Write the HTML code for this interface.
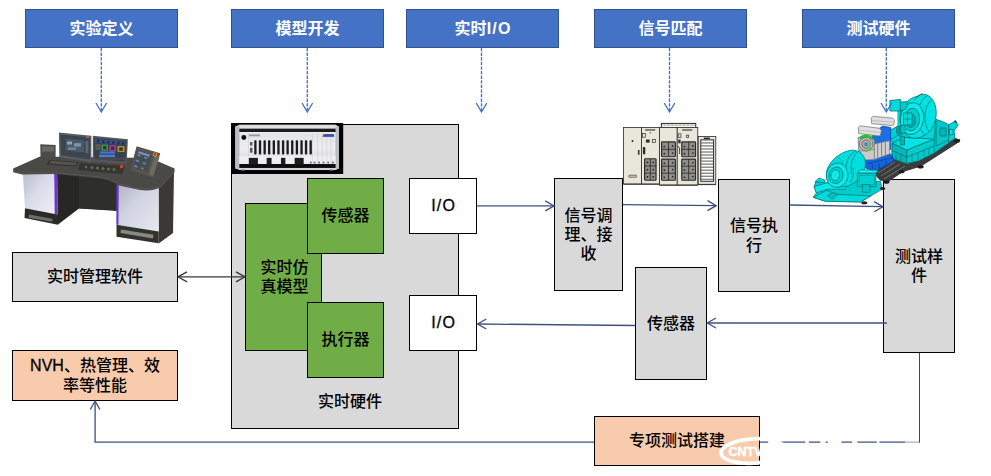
<!DOCTYPE html>
<html lang="zh-CN">
<head>
<meta charset="utf-8">
<title>实时仿真测试系统</title>
<style>
html,body{margin:0;padding:0;background:#fff;}
body{width:991px;height:476px;position:relative;overflow:hidden;
  font-family:"Liberation Sans","Noto Sans CJK SC",sans-serif;font-size:16px;color:#000;}
#stage{position:absolute;left:0;top:0;width:991px;height:476px;overflow:hidden;}
svg{position:absolute;left:0;top:0;}
.box{position:absolute;box-sizing:border-box;display:flex;align-items:center;justify-content:center;
  text-align:center;line-height:19.2px;font-size:16px;font-weight:500;}
.hd{background:#4472c4;border:1px solid #2f528f;color:#fff;font-weight:bold;top:9px;height:39px;width:153px;}
.gray{background:#d9d9d9;border:1px solid #000;}
.green{background:#70ad47;border:1px solid #000;}
.white{background:#fff;border:1px solid #000;}
.lat{letter-spacing:1.2px;margin-right:-1.2px;}
.box>div{white-space:nowrap;}
.nv{-webkit-text-stroke:0.3px #000;}
.io{letter-spacing:1.2px;margin-right:-1.2px;-webkit-text-stroke:0.3px #000;position:relative;top:0;}
.orange{background:#f8cbad;border:1px solid #000;}
</style>
</head>
<body>
<div id="stage">

<!-- header boxes -->
<div class="box hd" style="left:25px;"><div>实验定义</div></div>
<div class="box hd" style="left:231px;"><div>模型开发</div></div>
<div class="box hd" style="left:406px;"><div>实时<span class="lat">I/O</span></div></div>
<div class="box hd" style="left:594px;"><div>信号匹配</div></div>
<div class="box hd" style="left:802px;"><div>测试硬件</div></div>

<!-- container -->
<div class="box gray" style="left:231px;top:124px;width:228px;height:305px;"></div>
<div class="box" style="left:318px;top:392px;width:64px;height:19px;"><div>实时硬件</div></div>

<!-- left boxes -->
<div class="box gray" style="left:12px;top:252px;width:166px;height:50px;"><div>实时管理软件</div></div>
<div class="box orange" style="left:12px;top:350px;width:166px;height:51px;"><div><span class="nv">NVH</span>、热管理、效<br>率等性能</div></div>

<!-- green boxes -->
<div class="box green" style="left:245px;top:203px;width:77px;height:148px;padding-left:2px;"><div>实时仿<br>真模型</div></div>
<div class="box green" style="left:307px;top:178px;width:77px;height:76px;"><div>传感器</div></div>
<div class="box green" style="left:307px;top:302px;width:77px;height:76px;"><div>执行器</div></div>

<!-- I/O -->
<div class="box white" style="left:409px;top:178px;width:68px;height:56px;"><div><span class="io">I/O</span></div></div>
<div class="box white" style="left:409px;top:295px;width:68px;height:56px;"><div><span class="io">I/O</span></div></div>

<!-- right boxes -->
<div class="box gray" style="left:554px;top:178px;width:69px;height:113px;"><div>信号调<br>理、接<br>收</div></div>
<div class="box gray" style="left:718px;top:179px;width:72px;height:113px;"><div>信号执<br>行</div></div>
<div class="box gray" style="left:635px;top:267px;width:72px;height:113px;"><div>传感器</div></div>
<div class="box gray" style="left:883px;top:179px;width:72px;height:174px;"><div>测试样<br>件</div></div>
<div class="box orange" style="left:594px;top:416px;width:166px;height:50px;"><div>专项测试搭建</div></div>

<svg id="desk" width="991" height="476" viewBox="0 0 991 476">
  <defs>
    <filter id="bl" x="-5%" y="-5%" width="110%" height="110%"><feGaussianBlur stdDeviation="0.45"/></filter>
    <linearGradient id="silv" x1="0" y1="0" x2="1" y2="1">
      <stop offset="0" stop-color="#b9bccb"/><stop offset="0.45" stop-color="#d9dbe8"/><stop offset="1" stop-color="#eef0f6"/>
    </linearGradient>
    <linearGradient id="silv2" x1="0" y1="0" x2="1" y2="1">
      <stop offset="0" stop-color="#aeb1c0"/><stop offset="0.4" stop-color="#cfd2e0"/><stop offset="1" stop-color="#e6e8f0"/>
    </linearGradient>
  </defs>
  <g filter="url(#bl)">
    <!-- back panel / dark interior -->
    <polygon points="57,172 100,175 118,180 118,211 79,208.5 58,224.5" fill="#262623"/>
    <polygon points="79,174 100,175.5 117,180 117,210.5 79,208.3" fill="#2d2d29"/>
    <!-- right cabinet side -->
    <polygon points="158.5,187 174,171 173,233 158.7,243.5" fill="#3a3936"/>
    <!-- left cabinet front -->
    <polygon points="22.8,173 54.3,173 54.8,214 25,208.3" fill="url(#silv)"/>
    <polygon points="54.2,173 57.4,173 57.8,214.5 54.7,214" fill="#6a35c8"/>
    <polygon points="25,208.3 54.8,214 58,214.6 58,224.8 24.5,218" fill="#2b2b27"/>
    <rect x="29" y="214.5" width="24" height="3.2" fill="#8a8a86" transform="rotate(10 29 214.5)" opacity=".7"/>
    <!-- right cabinet front -->
    <polygon points="118.4,184 158.7,187 158.7,231.8 116.6,224.8" fill="url(#silv2)"/>
    <polygon points="116.4,184 118.8,184 118.4,225 116.4,224.6" fill="#6a35c8"/>
    <polygon points="116.5,224.7 158.7,231.6 158.7,243.3 116.5,236.8" fill="#33332f"/>
    <rect x="121" y="229.5" width="33" height="3.6" fill="#a5a5a0" transform="rotate(9.3 121 229.5)" opacity=".75"/>
    <!-- desk top -->
    <path d="M13.2,168.5 L40,156.5 L150,158 L174.6,168.6 L174.4,172.6 L161,187.5 Q151,191.6 140,190 L119,185.5 Q109,179.2 99,178.3 L54,174 L22,174.4 L13.2,172.2 Z" fill="#4a4844"/>
    <path d="M13.2,170.6 L22,173 L54,172.6 L99,177 Q109,178 119,184.2 L140,188.7 Q151,190.3 161,186.2 L174.4,171" fill="none" stroke="#5c5a55" stroke-width="0.8"/>
    <!-- small panel -->
    <polygon points="40.3,144.2 55.6,145 55.6,158 40.5,157" fill="#4c4c46"/>
    <rect x="42" y="146.5" width="12" height="5" fill="#77776f" opacity=".7"/>
    <!-- left monitor -->
    <polygon points="58.9,132.4 91.4,135.8 91.4,162 59.3,157.2" fill="#5b5f62"/>
    <polygon points="60.4,134.6 90,137.6 90,159.4 60.8,155.2" fill="#3b4450"/>
    <polygon points="65.5,138.5 84,140.4 84,152.5 65.8,150.4" fill="#4b5868"/>
    <rect x="67" y="141.5" width="5" height="3" fill="#9fb4c8" opacity=".8"/>
    <rect x="74" y="143.2" width="7" height="3.4" fill="#8aa2bd" opacity=".8"/>
    <rect x="68" y="147.6" width="8" height="2" fill="#7f9dc0" opacity=".8"/>
    <rect x="85.5" y="141" width="3" height="12" fill="#5c6c78" opacity=".9"/>
    <rect x="86" y="136.6" width="3" height="1.4" fill="#e05050"/>
    <!-- right monitor -->
    <polygon points="92.8,135.8 127.9,139.2 126.6,164 92.8,161.4" fill="#55585a"/>
    <polygon points="94.2,137.8 126.3,140.8 125.2,161.6 94.2,159.2" fill="#39404a"/>
    <polygon points="95,139 125,141.8 125,145.2 95,142.6" fill="#34509c"/>
    <g fill="#2a2f3a"><rect x="97" y="140" width="2.6" height="2.4"/><rect x="102" y="140.5" width="2.6" height="2.4"/><rect x="107" y="141" width="2.6" height="2.4"/><rect x="112" y="141.4" width="2.6" height="2.4"/><rect x="117" y="141.9" width="2.6" height="2.4"/><rect x="121.6" y="142.3" width="2.6" height="2.4"/></g>
    <rect x="95.5" y="144" width="5" height="6" fill="#5a5a52"/>
    <rect x="101.5" y="144.6" width="6.5" height="6" fill="#3a9a4c"/><rect x="103" y="146" width="3.5" height="3.4" fill="#30382f"/>
    <rect x="109.5" y="145.2" width="6.5" height="6" fill="#a83c98"/><rect x="111" y="146.6" width="3.5" height="3.4" fill="#3a2e38"/>
    <rect x="117.5" y="146" width="7" height="6" fill="#b09030"/><rect x="119.2" y="147.4" width="3.6" height="3.4" fill="#3a362c"/>
    <rect x="100" y="151.4" width="15" height="2.2" fill="#4474cc"/>
    <rect x="99" y="154.6" width="16" height="2.6" fill="#4a7cd0"/>
    <rect x="95" y="157.4" width="30" height="2.6" fill="#4a4c4e" opacity=".8"/>
    <!-- keyboard -->
    <polygon points="50,160 79,162.2 75.5,166.6 46.6,164.4" fill="#33332f"/>
    <polygon points="51,160.8 77,162.8 75,165.4 49,163.6" fill="#5c5c56" opacity=".8"/>
    <!-- control panel knobs -->
    <polygon points="80,163 125,166 122,174 78,170" fill="#34342f"/>
    <g fill="#66665f">
      <circle cx="92" cy="167.5" r="1.6"/><circle cx="97.5" cy="168" r="1.6"/><circle cx="103" cy="168.5" r="1.6"/>
      <circle cx="108.5" cy="169" r="1.6"/><circle cx="114" cy="169.5" r="1.6"/><circle cx="86" cy="167" r="1.4"/>
    </g>
    <circle cx="121.6" cy="166.6" r="1.9" fill="#e03a20"/>
    <!-- tablet -->
    <polygon points="136.6,146.2 160.2,153.2 153.2,177.4 130.2,170.2" fill="#55554e"/>
    <polygon points="137.6,150.6 152,155 147.6,172 132.6,167.6" fill="#4a4d4a"/>
    <polygon points="155,155 159.6,156.4 153.4,176 149,174.4" fill="#6b6b64"/>
    <g fill="#5b83c8">
      <rect x="137.5" y="154" width="3.4" height="1.8" transform="rotate(17 137.5 154)"/>
      <rect x="144.5" y="156.5" width="3.4" height="1.8" transform="rotate(17 144.5 156.5)"/>
      <rect x="136" y="159.5" width="3.4" height="1.8" transform="rotate(17 136 159.5)"/>
      <rect x="143" y="162" width="3.4" height="1.8" transform="rotate(17 143 162)"/>
      <rect x="134.5" y="165" width="3.4" height="1.8" transform="rotate(17 134.5 165)"/>
      <rect x="141.5" y="167.2" width="2.4" height="1.8" transform="rotate(17 141.5 167.2)"/>
    </g>
    <rect x="138.5" y="151.3" width="12" height="2" fill="#7d90c8" transform="rotate(17 138.5 151.3)"/>
    <circle cx="155" cy="154.6" r="2.1" fill="#d8b020"/>
    <circle cx="155" cy="154.4" r="1.3" fill="#e02818"/>
  </g>
</svg>
<svg id="rack" width="991" height="476" viewBox="0 0 991 476">
  <defs>
    <filter id="bl2" x="-5%" y="-5%" width="110%" height="110%"><feGaussianBlur stdDeviation="0.3"/></filter>
    <linearGradient id="rk" x1="0" y1="0" x2="0" y2="1">
      <stop offset="0" stop-color="#dcdde0"/><stop offset="0.5" stop-color="#ededf0"/><stop offset="1" stop-color="#d2d3d6"/>
    </linearGradient>
  </defs>
  <rect x="231" y="123" width="112.2" height="51" fill="#000"/>
  <g transform="translate(225,115) scale(0.13655)" filter="url(#bl2)">
    <polygon points="75,85 105,72 810,72 835,85 835,392 810,403 105,403 75,392" fill="#c9cacd"/>
    <rect x="105" y="72" width="705" height="331" fill="url(#rk)"/>
    <rect x="75" y="86" width="30" height="306" fill="#b9bcc2"/>
    <rect x="810" y="86" width="25" height="306" fill="#bcbec4"/>
    <rect x="105" y="100" width="705" height="26" fill="#1c1c1e"/>
    <rect x="105" y="358" width="705" height="30" fill="#111"/>
    <rect x="105" y="300" width="705" height="58" fill="#eeeef2"/>
    <rect x="105" y="126" width="705" height="8" fill="#f6f6f8"/>
    <!-- dividers -->
    <g stroke="#bfc0c6" stroke-width="3">
      <path d="M172 132V360M640 132V360M678 132V360M712 132V360M745 132V360M776 132V360"/>
    </g>
    <circle cx="138" cy="165" r="18" fill="#111"/>
    <rect x="176" y="142" width="80" height="14" fill="#9a9ba0"/>
    <rect x="183" y="198" width="18" height="26" fill="#55565a"/>
    <rect x="183" y="240" width="18" height="36" fill="#55565a"/>
    <!-- slots -->
    <g fill="#1a1a1c">
      <rect x="214" y="184" width="17" height="106" rx="6"/>
      <rect x="248" y="184" width="17" height="106" rx="6"/>
      <rect x="282" y="184" width="17" height="106" rx="6"/>
      <rect x="315" y="184" width="17" height="106" rx="6"/>
      <rect x="349" y="184" width="17" height="106" rx="6"/>
      <rect x="383" y="184" width="17" height="106" rx="6"/>
      <rect x="417" y="184" width="17" height="106" rx="6"/>
      <rect x="450" y="184" width="17" height="106" rx="6"/>
      <rect x="484" y="184" width="17" height="106" rx="6"/>
      <rect x="518" y="184" width="17" height="106" rx="6"/>
      <rect x="552" y="184" width="17" height="106" rx="6"/>
      <rect x="585" y="184" width="17" height="106" rx="6"/>
      <rect x="619" y="184" width="17" height="106" rx="6"/>
    </g>
    <!-- handles -->
    <g fill="#1b1b1d">
      <rect x="175" y="314" width="66" height="46"/>
      <rect x="305" y="314" width="36" height="46"/>
      <rect x="410" y="314" width="32" height="46"/>
      <rect x="510" y="314" width="66" height="46"/>
    </g>
    <g fill="#5a5b5f">
      <rect x="622" y="342" width="12" height="12"/><rect x="650" y="342" width="12" height="12"/>
      <rect x="683" y="342" width="12" height="12"/><rect x="716" y="342" width="12" height="12"/>
      <rect x="750" y="342" width="12" height="12"/><rect x="784" y="342" width="12" height="12"/>
    </g>
    <!-- logo -->
    <rect x="722" y="140" width="76" height="20" fill="#2a4fc0"/>
    <polygon points="712,160 724,140 736,140 724,160" fill="#d02838"/>
    <rect x="118" y="400" width="24" height="10" fill="#555"/>
    <rect x="768" y="400" width="24" height="10" fill="#555"/>
  </g>
</svg>
<svg id="cab" width="991" height="476" viewBox="0 0 991 476">
  <defs>
    <filter id="bl3" x="-5%" y="-5%" width="110%" height="110%"><feGaussianBlur stdDeviation="0.25"/></filter>
  </defs>
  <g transform="translate(615,115) scale(0.16821)" filter="url(#bl3)">
    <!-- top bar -->
    <rect x="276" y="50" width="204" height="26" fill="#f4f3ee" stroke="#2a2a28" stroke-width="6"/>
    <path d="M284 60H472" stroke="#55554f" stroke-width="5" stroke-dasharray="4 4"/>
    <!-- panels -->
    <g fill="#e9e6db" stroke="#33332f" stroke-width="5">
      <rect x="50" y="74" width="108" height="336"/>
      <rect x="158" y="74" width="107" height="336"/>
      <rect x="265" y="74" width="105" height="342"/>
      <rect x="370" y="74" width="122" height="342"/>
      <rect x="495" y="128" width="104" height="284"/>
    </g>
    <path d="M50 412H265M265 418H492M495 414H599" stroke="#2a2a28" stroke-width="5"/>
    <!-- louvers -->
    <rect x="510" y="148" width="76" height="246" fill="#fff" stroke="#2a2a28" stroke-width="6"/>
    <g stroke="#4a4a46" stroke-width="5.5">
      <path d="M510 166H586M510 184H586M510 202H586M510 220H586M510 238H586M510 256H586M510 274H586M510 292H586M510 310H586M510 328H586M510 346H586M510 364H586M510 382H586"/>
    </g>
    <rect x="528" y="134" width="36" height="9" fill="#2a2a28"/>
    <!-- grids -->
    <g fill="#8e8e8a" stroke="#2a2a28" stroke-width="7">
      <rect x="176" y="260" width="68" height="128" rx="4"/>
      <rect x="277" y="160" width="82" height="88" rx="4"/>
      <rect x="277" y="262" width="82" height="126" rx="4"/>
      <rect x="397" y="160" width="82" height="88" rx="4"/>
      <rect x="397" y="262" width="82" height="126" rx="4"/>
    </g>
    <g stroke="#2a2a28" stroke-width="5" fill="none">
      <path d="M210 260V388M176 303H244M176 346H244"/>
      <path d="M318 160V248M277 204H359M318 262V388M277 304H359M277 346H359"/>
      <path d="M438 160V248M397 204H479M438 262V388M397 304H479M397 346H479"/>
    </g>
    <g fill="#1e1e1e">
      <circle cx="193" cy="282" r="5"/><circle cx="227" cy="282" r="5"/><circle cx="193" cy="325" r="5"/><circle cx="227" cy="325" r="5"/><circle cx="193" cy="368" r="5"/><circle cx="227" cy="368" r="5"/>
      <circle cx="293" cy="188" r="5"/><circle cx="343" cy="184" r="5"/><circle cx="293" cy="230" r="5"/><circle cx="343" cy="226" r="5"/>
      <circle cx="293" cy="288" r="5"/><circle cx="343" cy="284" r="5"/><circle cx="293" cy="328" r="5"/><circle cx="343" cy="324" r="5"/><circle cx="293" cy="370" r="5"/><circle cx="343" cy="366" r="5"/>
      <circle cx="413" cy="188" r="5"/><circle cx="463" cy="184" r="5"/><circle cx="413" cy="230" r="5"/><circle cx="463" cy="226" r="5"/>
      <circle cx="413" cy="288" r="5"/><circle cx="463" cy="284" r="5"/><circle cx="413" cy="328" r="5"/><circle cx="463" cy="324" r="5"/><circle cx="413" cy="370" r="5"/><circle cx="463" cy="366" r="5"/>
    </g>
    <!-- small details -->
    <circle cx="104" cy="154" r="6" fill="#2a2a2a"/>
    <rect x="136" y="208" width="10" height="28" fill="#3a3a38"/>
    <rect x="82" y="358" width="46" height="12" rx="3" fill="#d8d5ca" stroke="#3a3a38" stroke-width="4"/>
    <rect x="182" y="84" width="56" height="10" fill="#8c8a80" stroke="#55534c" stroke-width="2"/>
    <rect x="402" y="84" width="56" height="10" fill="#8c8a80" stroke="#55534c" stroke-width="2"/>
    <rect x="164" y="110" width="16" height="22" fill="#e9e6db" stroke="#2c2c2a" stroke-width="4"/>
    <circle cx="210" cy="106" r="4" fill="#2a2a2a"/>
    <rect x="184" y="146" width="22" height="18" fill="#2c2c2a"/>
    <rect x="222" y="146" width="18" height="18" fill="#e9e6db" stroke="#2c2c2a" stroke-width="4"/>
    <rect x="166" y="190" width="14" height="44" rx="4" fill="#2c2c2a"/>
    <rect x="376" y="112" width="16" height="22" fill="#e9e6db" stroke="#2c2c2a" stroke-width="4"/>
    <rect x="424" y="120" width="14" height="14" fill="#e9e6db" stroke="#2c2c2a" stroke-width="4"/>
    <rect x="376" y="146" width="14" height="22" fill="#2c2c2a"/>
    <path d="M374 184L384 196V232" stroke="#2c2c2a" stroke-width="5" fill="none"/>
  </g>
</svg>
<svg id="mach" width="991" height="476" viewBox="0 0 991 476">
  <defs>
    <filter id="bl4" x="-5%" y="-5%" width="110%" height="110%"><feGaussianBlur stdDeviation="0.3"/></filter>
  </defs>
  <g filter="url(#bl4)" stroke-linejoin="round">
    <!-- base plate -->
    <path d="M876,171 L892,158 L907,163.5 L919,160.5 L934,153 L955,138 L960.5,139.5 L957,143.5 L921,166.5 L903,172 L888,182 L880,180.5 L876,176 Z" fill="#3b3b3b"/>
    <g stroke="#8a8a8a" stroke-width="0.7" fill="none"><path d="M878 173L895 162M881 176L900 164M884 179L905 166"/></g>
    <g fill="#1e1e1e">
      <ellipse cx="901.5" cy="171.5" rx="3.2" ry="1.8"/><ellipse cx="920.5" cy="166.8" rx="3.2" ry="1.8"/>
      <ellipse cx="957" cy="141" rx="3" ry="1.8"/><ellipse cx="886.5" cy="182" rx="3" ry="1.8"/>
    </g>
    <!-- right motor -->
    <g stroke="#007676" stroke-width="0.8">
      <path d="M889.9,100.5 L900.4,99.5 L900.4,102 L910.9,101.6 L917.2,96.3 L923.5,94.2 L931.9,99.5 L936.1,108.9 L936.1,119.4 L942.4,121.5 L948.7,124.7 L955,121.5 L958.2,124.7 L954,131 L955,138.3 L934,153 L919.3,160.4 L906.7,163.5 L892,158.3 L892,142.5 L884.7,139.4 L884.7,133.1 L892,131 L897.3,125.7 L897.3,111 L889.9,111 Z" fill="#00d6d6" stroke="none"/>
      <!-- base block -->
      <polygon points="892,143 906.7,150 934,139 936,120 955,138.3 934,153 919.3,160.4 906.7,163.5 892,158.3" fill="#00c6c6"/>
      <polygon points="892,143 906.7,150 906.7,163.5 892,158.3" fill="#00b8b8"/>
      <polygon points="906.7,150 934,139 934,153 919.3,160.4 906.7,163.5" fill="#00cccc"/>
      <path d="M892,150.5L906.7,157L934,146" fill="none"/>
      <path d="M896,152.5V159.5M901,154.5V161.5M912,155V162M918,152.5V160M924,150V157.5M929,148V155" fill="none" stroke-width="0.7"/>
      <polygon points="892,143 904,137.5 934,139 906.7,150" fill="#06e6e6"/>
      <!-- right section -->
      <polygon points="936.1,119.4 942.4,121.5 948.7,124.7 948.7,140 936.1,146" fill="#00c8c8"/>
      <polygon points="948.7,124.7 955,121.5 958.2,124.7 954,131 955,138.3 948.7,142" fill="#00d8d8"/>
      <rect x="940" y="128" width="6" height="8" fill="#00b4b4"/>
      <rect x="949.5" y="129.5" width="3.6" height="5.4" fill="#08e4e4"/>
      <path d="M954.6,120.6L956.6,123" stroke="#055" stroke-width="1.8"/>
      <!-- drum -->
      <path d="M900,117 C901,106 908,98 917.2,96.3 C920,94.5 922,94 923.5,94.2 C930.5,94.5 936,102 936.2,112 C936.5,123 931,133 923,136 C920,138 916,138.5 913,138 C905,137 899.5,128 900,117 Z" fill="#02e2e2"/>
      <path d="M927.5,95.5 C921,99 917.5,107 918.2,118 C918.8,126 921,131.5 925,135" fill="none"/>
      <path d="M932,99.5 C927,103.5 924.5,110 925,119 C925.4,125 927,129.5 929.5,132" fill="none"/>
      <ellipse cx="912" cy="118.6" rx="11.6" ry="16" fill="#0aeaea" transform="rotate(8 912 118.6)"/>
      <ellipse cx="911.6" cy="119.6" rx="8" ry="11.4" fill="#00cece" transform="rotate(8 911.6 119.6)"/>
      <ellipse cx="911" cy="121" rx="4.6" ry="6.6" fill="#00b0b0" transform="rotate(8 911 121)"/>
      <rect x="903.5" y="113" width="8.5" height="12" fill="#00d8d8"/>
      <path d="M903.5,119H912M907.5,113V125" fill="none" stroke-width="0.6"/>
      <!-- top-left box -->
      <polygon points="889.9,100.5 900.4,99.5 900.4,111 889.9,111" fill="#00dcdc"/>
      <polygon points="900.4,102 908,101.7 906,109 900.4,111" fill="#00cccc"/>
      <path d="M914.4,99.5L921.6,93.6L922.8,94.8" fill="none" stroke="#0a7070"/>
      <!-- shaft -->
      <polygon points="884.7,133.1 897,126.5 901,133.5 888,141" fill="#00d2d2"/>
      <ellipse cx="887" cy="137" rx="2.8" ry="3.6" fill="#10eaea"/>
      <ellipse cx="887" cy="137" rx="1.2" ry="1.6" fill="#009090"/>
      <ellipse cx="899.5" cy="130.5" rx="3" ry="4.6" fill="#009a9a"/>
      <ellipse cx="903" cy="129.5" rx="2.6" ry="4.2" fill="#00c0c0"/>
      <rect x="900" y="136" width="4.5" height="9" fill="#00b4b4"/>
      <path d="M893,141V147M896,139.5V146" fill="none" stroke-width="0.6"/>
    </g>
    <!-- gearbox (G tile) -->
    <g transform="translate(845,110) scale(0.13645)" stroke-width="5">
      <polygon points="150,362 330,318 352,345 352,380 250,432 205,448 150,425" fill="#1464dc" stroke="#0a3a96"/>
      <path d="M160 395L345 350M200 400V440M250 390V425M300 375V405" stroke="#0a3a96" stroke-width="5" fill="none"/>
      <polygon points="200,175 275,118 335,128 335,290 262,330 200,300" fill="#1a6ee6" stroke="#0a3a96"/>
      <polygon points="95,200 215,215 215,330 150,352 100,292" fill="#bdbdbd" stroke="#6a6a6a"/>
      <polygon points="215,250 326,226 326,322 215,362" fill="#d0d0d0" stroke="#7a7a7a"/>
      <path d="M240 250V350M268 242V340M296 236V330" stroke="#7a7a7a" stroke-width="7" fill="none"/>
      <polygon points="130,300 215,290 215,362 150,366 105,300" fill="#cacaca" stroke="#7a7a7a"/>
      <path d="M110 195 Q160 165 205 200 L205 215 Q160 185 112 212 Z" fill="#18d818" stroke="#0c8c0c" stroke-width="3"/>
      <circle cx="155" cy="250" r="50" fill="#bcbcbc" stroke="#5a5a5a"/>
      <path d="M190 275 Q180 300 150 302" stroke="#18d818" stroke-width="9" fill="none"/>
      <circle cx="155" cy="250" r="32" fill="#a8a8a8" stroke="#5a5a5a"/>
      <circle cx="155" cy="252" r="10" fill="#10c8c8" stroke="#077"/>
      <polygon points="192,58 205,46 350,60 363,76 358,108 345,114 195,100" fill="#dedede" stroke="#6c6c6c"/>
      <path d="M194 76L350 90" stroke="#a4a4a4" stroke-width="4" fill="none"/>
      <polygon points="97,128 110,116 255,134 266,150 260,186 248,190 100,172" fill="#e0e0e0" stroke="#6c6c6c"/>
      <path d="M99 148L255 164" stroke="#a4a4a4" stroke-width="4" fill="none"/>
    </g>
    <!-- left motor (M1 tile) -->
    <g transform="translate(800,145) scale(0.12606)" stroke="#007c7c" stroke-width="6">
      <polygon points="105,415 130,380 112,330 125,292 210,300 640,288 650,352 480,452 200,446" fill="#00cccc"/>
      <polygon points="112,330 210,300 360,320 360,352 215,352 130,380" fill="#0ae8e8"/>
      <polygon points="105,415 200,446 480,452 560,404 300,392 210,360" fill="#00dada"/>
      <polygon points="215,400 260,378 300,390 255,430" fill="#0bbcbc"/>
      <path d="M208,235 C210,150 300,60 400,42 C470,32 520,80 518,150 C516,230 450,300 380,325 C290,350 205,320 208,235 Z" fill="#00dede"/>
      <path d="M440,45 C380,80 350,160 370,250 M400,300 C420,260 430,220 420,180 M470,42 C420,80 395,150 410,230" fill="none"/>
      <path d="M300,95 C330,120 345,150 350,180" fill="none" stroke-width="4"/>
      <ellipse cx="295" cy="240" rx="86" ry="98" fill="#08e8e8" transform="rotate(10 295 240)"/>
      <ellipse cx="285" cy="240" rx="56" ry="66" fill="#00d2d2" transform="rotate(10 285 240)"/>
      <ellipse cx="280" cy="240" rx="34" ry="44" fill="#10eaea" transform="rotate(10 280 240)"/>
      <rect x="455" y="222" width="148" height="108" fill="#00d0d0"/>
      <path d="M470 240H590V315H470Z" fill="none" stroke-width="4"/>
      <polygon points="455,222 480,196 620,200 603,222" fill="#20f0f0"/>
      <rect x="495" y="315" width="60" height="60" fill="#00c8c8"/>
      <polygon points="120,290 150,262 200,280 190,300" fill="#00dada"/>
      <ellipse cx="655" cy="345" rx="22" ry="12" fill="#222" stroke="none"/>
      <ellipse cx="510" cy="458" rx="24" ry="12" fill="#222" stroke="none"/>
    </g>
  </g>
</svg>
<svg id="lines" width="991" height="476" viewBox="0 0 991 476">
  <!-- dashed arrows -->
  <g stroke="#4472c4" stroke-width="1.35" fill="none">
    <g stroke-dasharray="3.3 1.3">
      <path d="M101.3 48V111"/>
      <path d="M307.3 48V111"/>
      <path d="M481.5 48V111"/>
      <path d="M669.5 48V111"/>
      <path d="M886.3 48V111"/>
    </g>
    <path d="M96 103L101.3 112L106.6 103"/>
    <path d="M302 103L307.3 112L312.6 103"/>
    <path d="M476.2 103L481.5 112L486.8 103"/>
    <path d="M664.2 103L669.5 112L674.8 103"/>
    <path d="M881 103L886.3 112L891.6 103"/>
  </g>
  <!-- double arrow -->
  <g stroke="#3a3a3a" stroke-width="1.35" fill="none">
    <path d="M178 276.8H245"/>
    <path d="M187 271.8L178 276.8L187 281.8"/>
    <path d="M236 271.8L245 276.8L236 281.8"/>
  </g>
  <!-- connectors -->
  <g stroke="#3d5180" stroke-width="1.33" fill="none">
    <path d="M477 205.9H554"/>
    <path d="M545.3 200.9L554 205.9L545.3 210.9"/>
    <path d="M623 204.6L716.2 205.7"/>
    <path d="M707.5 200.7L716.2 205.7L707.5 210.7"/>
    <path d="M790 205L882.8 206.7"/>
    <path d="M874.2 201.6L882.8 206.7L874.2 211.7"/>
    <path d="M887 323H707.3"/>
    <path d="M716 318L707.3 323L716 328"/>
    <path d="M635 325.5L477.6 324"/>
    <path d="M486.3 319L477.6 324L486.3 329"/>
    <path d="M919.5 353V442.1" stroke-width="1.05" stroke="#33477a"/>
    <path d="M920 442.1H760"/>
    <path d="M594 442.1H95.1V401"/>
    <path d="M90.3 409.5L95.1 401L99.9 409.5"/>
  </g>
  <!-- watermark (white overlay) -->
  <g id="wm">
    <g fill="#fff">
      <rect x="768.2" y="440" width="8" height="4"/>
      <rect x="805.3" y="440" width="3.6" height="4"/>
      <rect x="820.3" y="440" width="5.3" height="4"/>
      <rect x="827.8" y="440" width="13.7" height="4"/>
      <rect x="852.1" y="440" width="5.3" height="4"/>
      <rect x="876.8" y="440" width="2.7" height="4"/>
      <rect x="905" y="440" width="13.8" height="4" opacity=".55"/>
    </g>
    <ellipse cx="753" cy="451" rx="32" ry="12.2" fill="none" stroke="#fff" stroke-width="3.8" transform="rotate(-4 753 451)"/>
    <text x="728.5" y="456" fill="#fff" stroke="#fff" stroke-width="0.5" font-family="'Liberation Sans',sans-serif" font-weight="bold" font-size="13" textLength="34" lengthAdjust="spacingAndGlyphs">CNTV</text>
  </g>
</svg>

</div>
</body>
</html>
